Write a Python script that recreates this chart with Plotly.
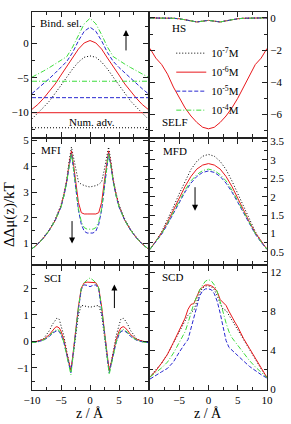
import plotly.graph_objects as go

# ---------------- data ----------------
series_keys = ["1e-7", "1e-6", "1e-5", "1e-4"]
series_names = ["10<sup>-7</sup>M", "10<sup>-6</sup>M", "10<sup>-5</sup>M", "10<sup>-4</sup>M"]

# Binding selectivity (top left)
z_bs = [-10, -9, -8, -7, -6, -5, -4, -3, -2, -1, 0, 1, 2, 3, 4, 5, 6, 7, 8, 9, 10]
bs_1e7 = [-11.0, -10.2, -9.3, -8.4, -7.3, -6.1, -4.9, -3.7, -2.7, -2.0, -1.8, -2.0, -2.7, -3.7, -4.9, -6.1, -7.3, -8.4, -9.3, -10.2, -11.0]
bs_1e6 = [-9.6, -8.9, -8.0, -7.0, -5.9, -4.6, -3.3, -2.1, -0.8, 0.1, 0.45, 0.1, -0.8, -2.1, -3.3, -4.6, -5.9, -7.0, -8.0, -8.9, -9.6]
bs_1e5 = [-7.3, -6.6, -5.9, -5.1, -4.3, -3.5, -2.6, -1.3, 0.4, 1.8, 2.4, 1.8, 0.4, -1.3, -2.6, -3.5, -4.3, -5.1, -5.9, -6.6, -7.3]
bs_1e4 = [-4.9, -4.5, -4.0, -3.5, -3.0, -2.5, -1.9, -0.5, 1.3, 2.9, 3.7, 2.9, 1.3, -0.5, -1.9, -2.5, -3.0, -3.5, -4.0, -4.5, -4.9]
# Numerical advantage levels (horizontal lines)
z_na = [-10, 10]
na_levels = [-12.3, -10.1, -7.9, -5.5]

# HS / SELF (top right)
z_hs = [-10, -9, -8, -7, -6, -5, -4, -3, -2, -1, 0, 1, 2, 3, 4, 5, 6, 7, 8, 9, 10]
hs_all = [0.0, 0.0, 0.0, 0.0, -0.02, -0.05, -0.1, -0.18, -0.25, -0.2, -0.15, -0.2, -0.25, -0.18, -0.1, -0.05, -0.02, 0.0, 0.0, 0.0, 0.0]
self_1e6 = [-1.9, -2.5, -2.9, -3.5, -4.3, -5.0, -5.6, -6.1, -6.5, -6.8, -6.9, -6.8, -6.5, -6.1, -5.6, -5.0, -4.3, -3.5, -2.9, -2.5, -1.9]

# MFI (middle left)
z_mfi = [-10, -9, -8, -7, -6, -5, -4.5, -4, -3.6, -3.2, -2.8, -2.4, -2, -1.5, -1, -0.5, 0,
         0.5, 1, 1.5, 2, 2.4, 2.8, 3.2, 3.6, 4, 4.5, 5, 6, 7, 8, 9, 10]
mfi_1e7 = [0.8, 1.0, 1.25, 1.55, 1.95, 2.5, 2.95, 3.5, 4.2, 4.75, 4.3, 3.8, 3.4, 3.3, 3.25, 3.22, 3.2,
           3.22, 3.25, 3.3, 3.4, 3.8, 4.3, 4.75, 4.2, 3.5, 2.95, 2.5, 1.95, 1.55, 1.25, 1.0, 0.8]
mfi_1e6 = [0.8, 0.98, 1.22, 1.52, 1.9, 2.45, 2.9, 3.45, 4.1, 4.6, 4.0, 3.3, 2.6, 2.2, 2.15, 2.15, 2.15,
           2.15, 2.15, 2.2, 2.6, 3.3, 4.0, 4.6, 4.1, 3.45, 2.9, 2.45, 1.9, 1.52, 1.22, 0.98, 0.8]
mfi_1e5 = [0.8, 0.98, 1.22, 1.52, 1.9, 2.42, 2.85, 3.4, 4.0, 4.5, 3.8, 3.0, 2.3, 1.75, 1.48, 1.41, 1.4,
           1.41, 1.48, 1.75, 2.3, 3.0, 3.8, 4.5, 4.0, 3.4, 2.85, 2.42, 1.9, 1.52, 1.22, 0.98, 0.8]
mfi_1e4 = [0.8, 0.98, 1.22, 1.52, 1.9, 2.42, 2.85, 3.4, 4.0, 4.5, 3.85, 3.05, 2.35, 1.85, 1.62, 1.56, 1.55,
           1.56, 1.62, 1.85, 2.35, 3.05, 3.85, 4.5, 4.0, 3.4, 2.85, 2.42, 1.9, 1.52, 1.22, 0.98, 0.8]

# MFD (middle right)
z_mfd = [-10, -9, -8, -7, -6, -5, -4, -3, -2, -1, 0, 1, 2, 3, 4, 5, 6, 7, 8, 9, 10]
mfd_1e7 = [0.57, 0.79, 1.05, 1.37, 1.72, 2.08, 2.43, 2.74, 2.96, 3.1, 3.15, 3.1, 2.96, 2.74, 2.43, 2.08, 1.72, 1.37, 1.05, 0.79, 0.57]
mfd_1e6 = [0.57, 0.78, 1.02, 1.31, 1.63, 1.96, 2.28, 2.55, 2.75, 2.86, 2.9, 2.86, 2.75, 2.55, 2.28, 1.96, 1.63, 1.31, 1.02, 0.78, 0.57]
mfd_1e5 = [0.57, 0.76, 0.98, 1.25, 1.55, 1.85, 2.13, 2.37, 2.55, 2.66, 2.7, 2.66, 2.55, 2.37, 2.13, 1.85, 1.55, 1.25, 0.98, 0.76, 0.57]
mfd_1e4 = [0.57, 0.77, 1.0, 1.27, 1.58, 1.89, 2.18, 2.43, 2.6, 2.71, 2.75, 2.71, 2.6, 2.43, 2.18, 1.89, 1.58, 1.27, 1.0, 0.77, 0.57]

# SCI (bottom left)
z_sci = [-10, -9, -8, -7, -6.5, -6, -5.7, -5.3, -5, -4.5, -4, -3.6, -3.3, -3, -2.5, -2, -1.5, -1, -0.5, 0,
         0.5, 1, 1.5, 2, 2.5, 3, 3.3, 3.6, 4, 4.5, 5, 5.3, 5.7, 6, 6.5, 7, 8, 9, 10]
sci_1e7 = [-0.05, 0.0, 0.1, 0.4, 0.63, 0.8, 0.87, 0.82, 0.6, 0.2, -0.4, -0.85, -1.1, -0.7, 0.1, 1.0, 1.35, 1.33, 1.3, 1.28,
           1.3, 1.33, 1.35, 1.0, 0.1, -0.7, -1.1, -0.85, -0.4, 0.2, 0.6, 0.82, 0.87, 0.8, 0.63, 0.4, 0.1, 0.0, -0.05]
sci_1e6 = [-0.05, 0.0, 0.07, 0.25, 0.4, 0.52, 0.55, 0.5, 0.38, 0.05, -0.45, -0.85, -1.1, -0.6, 0.35, 1.3, 2.0, 2.2, 2.22, 2.22,
           2.22, 2.2, 2.0, 1.3, 0.35, -0.6, -1.1, -0.85, -0.45, 0.05, 0.38, 0.5, 0.55, 0.52, 0.4, 0.25, 0.07, 0.0, -0.05]
sci_1e5 = [-0.05, -0.02, 0.04, 0.18, 0.3, 0.38, 0.4, 0.36, 0.25, -0.05, -0.5, -0.9, -1.18, -0.65, 0.3, 1.2, 1.95, 2.12, 2.1, 2.05,
           2.1, 2.12, 1.95, 1.2, 0.3, -0.65, -1.18, -0.9, -0.5, -0.05, 0.25, 0.36, 0.4, 0.38, 0.3, 0.18, 0.04, -0.02, -0.05]
sci_1e4 = [-0.05, -0.02, 0.05, 0.2, 0.33, 0.42, 0.45, 0.4, 0.28, -0.05, -0.5, -0.95, -1.25, -0.7, 0.3, 1.25, 2.0, 2.2, 2.3, 2.38,
           2.3, 2.2, 2.0, 1.25, 0.3, -0.7, -1.25, -0.95, -0.5, -0.05, 0.28, 0.4, 0.45, 0.42, 0.33, 0.2, 0.05, -0.02, -0.05]

# SCD (bottom right)
z_scd = [-10, -9, -8, -7, -6, -5, -4.5, -4, -3.5, -3, -2.5, -2, -1.5, -1, -0.5, 0,
         0.5, 1, 1.5, 2, 2.5, 3, 3.5, 4, 4.5, 5, 6, 7, 8, 9, 10]
scd_1e7 = [1.3, 1.95, 2.7, 3.6, 4.7, 5.8, 6.4, 7.0, 7.6, 7.9, 8.1, 9.0, 9.9, 10.4, 10.6, 10.6,
           10.5, 10.2, 9.6, 8.8, 8.2, 8.1, 7.6, 7.1, 6.6, 6.1, 5.0, 4.0, 3.0, 2.1, 1.2]
scd_1e6 = [1.25, 1.9, 2.7, 3.6, 4.8, 6.0, 6.6, 7.3, 8.2, 8.7, 8.8, 9.5, 10.2, 10.5, 10.7, 10.7,
           10.6, 10.4, 10.0, 9.2, 8.9, 8.6, 8.0, 7.4, 6.9, 6.4, 5.2, 4.2, 3.2, 2.2, 1.2]
scd_1e5 = [1.05, 1.45, 1.8, 2.15, 2.8, 3.8, 4.3, 4.7, 5.1, 6.2, 7.3, 8.5, 9.6, 10.1, 10.3, 10.3,
           10.2, 9.8, 9.0, 7.8, 6.4, 5.0, 4.3, 4.0, 3.7, 3.4, 2.9, 2.35, 1.9, 1.5, 1.15]
scd_1e4 = [1.25, 1.7, 2.2, 2.8, 3.7, 4.8, 5.3, 5.9, 6.8, 7.9, 8.8, 9.5, 10.2, 10.7, 11.1, 11.25,
           11.1, 10.7, 10.0, 9.0, 7.8, 6.8, 5.9, 5.3, 4.9, 4.5, 3.7, 2.95, 2.3, 1.75, 1.2]

# ---------------- styles ----------------
COLORS = {"1e-7": "#000000", "1e-6": "#e8181c", "1e-5": "#2828d0", "1e-4": "#3cdc3c"}
DASHES = {"1e-7": "1px,2px", "1e-6": "solid", "1e-5": "4px,2px", "1e-4": "5px,2px,1px,2px"}
FONT = "Liberation Serif"

fig = go.Figure()


def add_set(x, ys, xa, ya, legend=False):
    for key, name, y in zip(series_keys, series_names, ys):
        fig.add_trace(go.Scatter(
            x=x, y=y, mode="lines", name=name, legendgroup=key, showlegend=legend,
            line=dict(color=COLORS[key], width=1, dash=DASHES[key]),
            xaxis=xa, yaxis=ya, hoverinfo="skip"))


# top-left
add_set(z_bs, [bs_1e7, bs_1e6, bs_1e5, bs_1e4], "x", "y")
for key, lev in zip(series_keys, na_levels):
    fig.add_trace(go.Scatter(x=z_na, y=[lev, lev], mode="lines", showlegend=False,
                             line=dict(color=COLORS[key], width=1, dash=DASHES[key]),
                             xaxis="x", yaxis="y", hoverinfo="skip"))
# top-right: SELF (red) + HS (all)
fig.add_trace(go.Scatter(x=z_hs, y=self_1e6, mode="lines", showlegend=False,
                         line=dict(color=COLORS["1e-6"], width=1), xaxis="x2", yaxis="y2"))
add_set(z_hs, [hs_all, hs_all, hs_all, hs_all], "x2", "y2", legend=True)
# middle
add_set(z_mfi, [mfi_1e7, mfi_1e6, mfi_1e5, mfi_1e4], "x3", "y3")
add_set(z_mfd, [mfd_1e7, mfd_1e6, mfd_1e5, mfd_1e4], "x4", "y4")
# bottom
add_set(z_sci, [sci_1e7, sci_1e6, sci_1e5, sci_1e4], "x5", "y5")
add_set(z_scd, [scd_1e7, scd_1e6, scd_1e5, scd_1e4], "x6", "y6")

W, H = 291, 424
ML, MR, MT, MB = 32, 16, 7, 34
PW, PH = W - ML - MR, H - MT - MB


def px(xp):
    return (xp - ML) / PW


def py(yp):
    return (H - MB - yp) / PH


xdom_l = [0, px(152)]
xdom_r = [px(154), 1]
ydoms = [[py(134), 1], [py(262), py(136)], [0, py(264)]]

tickfont = dict(family=FONT, size=11, color="black")


def xaxis(dom, anchor, labels, tickvals=None):
    d = dict(domain=dom, anchor=anchor, range=[-10, 10], tick0=0, dtick=5,
             ticks="inside", ticklen=5, tickcolor="#222", tickwidth=1,
             minor=dict(dtick=2.5, tick0=0, ticks="inside", ticklen=3, tickcolor="#222"),
             showline=True, linecolor="#222", linewidth=1, mirror="ticks",
             showgrid=False, zeroline=False, showticklabels=labels,
             tickfont=tickfont, fixedrange=True)
    if tickvals is not None:
        d["tickmode"] = "array"
        d["tickvals"] = tickvals
    return d


def yaxis(dom, anchor, rng, dtick, minor, side="left"):
    return dict(domain=dom, anchor=anchor, range=rng, tick0=0, dtick=dtick,
                ticks="inside", ticklen=5, tickcolor="#222", tickwidth=1,
                minor=dict(dtick=minor, tick0=0, ticks="inside", ticklen=3, tickcolor="#222"),
                showline=True, linecolor="#222", linewidth=1, mirror="ticks",
                showgrid=False, zeroline=False, side=side, tickfont=tickfont,
                fixedrange=True)


fig.update_layout(
    width=W, height=H, margin=dict(l=ML, r=MR, t=MT, b=MB),
    plot_bgcolor="white", paper_bgcolor="white",
    font=dict(family=FONT, size=11, color="black"),
    xaxis=xaxis(xdom_l, "y", False),
    xaxis2=xaxis(xdom_r, "y2", False),
    xaxis3=xaxis(xdom_l, "y3", False),
    xaxis4=xaxis(xdom_r, "y4", False),
    xaxis5=xaxis(xdom_l, "y5", True),
    xaxis6=xaxis(xdom_r, "y6", True, tickvals=[-5, 0, 5, 10]),
    yaxis=yaxis(ydoms[0], "x", [-13.7, 4.62], 5, 2.5),
    yaxis2=yaxis(ydoms[0], "x2", [-7.43, 0.37], 2, 1, side="right"),
    yaxis3=yaxis(ydoms[1], "x3", [0.22, 5.05], 1, 0.5),
    yaxis4=yaxis(ydoms[1], "x4", [0.18, 3.56], 0.5, 0.25, side="right"),
    yaxis5=yaxis(ydoms[2], "x5", [-1.83, 2.84], 1, 0.5),
    yaxis6=yaxis(ydoms[2], "x6", [-0.07, 12.68], 4, 2, side="right"),
    legend=dict(x=px(176), y=py(34), xanchor="left", yanchor="top",
                bgcolor="rgba(0,0,0,0)", font=dict(family=FONT, size=11),
                tracegroupgap=0, itemwidth=30),
    showlegend=True,
)

ann = []


def label(text, xp, yp, size=11, anchor="left"):
    ann.append(dict(text=text, x=px(xp), y=py(yp), xref="paper", yref="paper",
                    xanchor=anchor, yanchor="middle", showarrow=False,
                    font=dict(family=FONT, size=size, color="black")))


label("Bind. sel.", 38, 18)
label("Num. adv.", 68, 118)
label("HS", 175, 23)
label("SELF", 164, 118)
label("MFI", 39, 147)
label("MFD", 165, 148)
label("SCI", 42, 277)
label("SCD", 164, 275)
label("z / Å", 92, 414, size=14, anchor="center")
label("z / Å", 214.5, 414, size=14, anchor="center")
ann.append(dict(text="ΔΔμ(z)/kT", x=px(9), y=py(212), xref="paper", yref="paper",
                textangle=-90, showarrow=False, xanchor="center", yanchor="middle",
                font=dict(family=FONT, size=15, color="black")))


def arrow(xa, ya, x, y, ay):
    ann.append(dict(text="", x=x, y=y, xref=xa, yref=ya, ax=0, ay=ay,
                    showarrow=True, arrowhead=2, arrowsize=1.2, arrowwidth=1,
                    arrowcolor="black"))


arrow("x", "y", 6.2, 2.0, 22)
arrow("x3", "y3", -3.1, 1.0, -24)
arrow("x4", "y4", -2.3, 1.62, -25)
arrow("x5", "y5", 4.2, 2.13, 25)

fig.update_layout(annotations=ann)
fig.write_html("out.html")
